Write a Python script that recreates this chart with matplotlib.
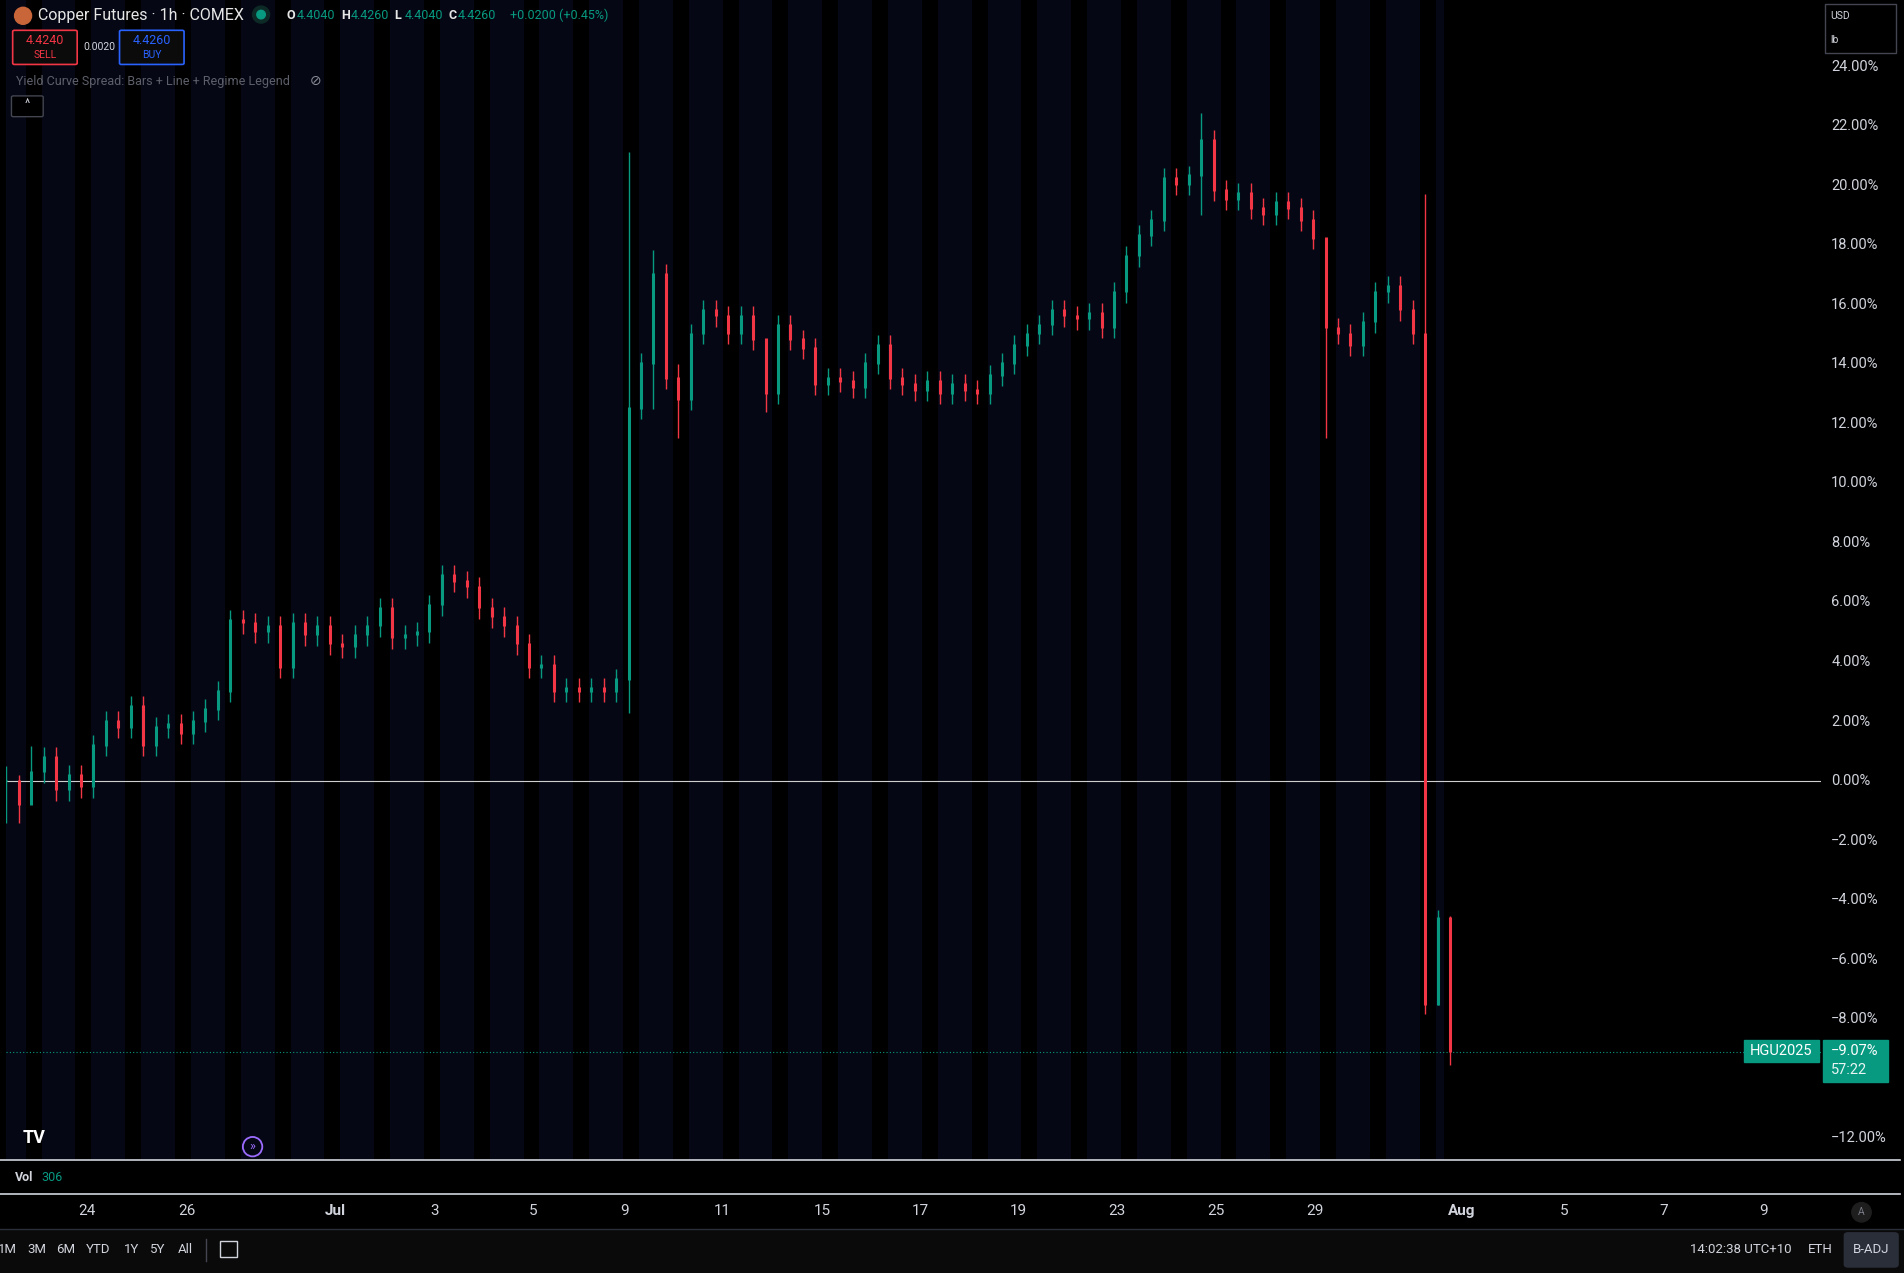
import numpy as np
import matplotlib
matplotlib.use("Agg")
import matplotlib.pyplot as plt
from matplotlib.patches import FancyBboxPatch, Rectangle, Ellipse

plt.rcParams["font.family"] = ["Roboto", "DejaVu Sans"]

# ── Data (x in trading-day units, Jun 24 = 0; y in % change) ─────────────────
x_start, x_step = -1.63, 0.25
closes = [
    0.0, -0.8, 0.3, 0.8, -0.3, 0.2, -0.2, 1.2, 2.0, 1.8,
    2.5, 1.2, 1.8, 1.9, 1.6, 2.0, 2.4, 3.0, 5.4, 5.3,
    5.0, 5.2, 3.8, 5.3, 4.9, 5.2, 4.6, 4.5, 4.9, 5.2,
    5.8, 4.8, 4.9, 5.0, 5.9, 6.9, 6.7, 6.5, 5.8, 5.5,
    5.2, 4.6, 3.8, 3.9, 3.0, 3.1, 3.0, 3.1, 3.0, 3.4,
    12.5, 14.0, 17.0, 13.5, 12.8, 15.0, 15.8, 15.6, 15.0, 15.6,
    14.8, 13.0, 15.3, 14.8, 14.5, 13.3, 13.5, 13.4, 13.2, 14.0,
    14.6, 13.5, 13.3, 13.1, 13.4, 13.0, 13.3, 13.1, 13.0, 13.6,
    14.0, 14.6, 15.0, 15.3, 15.8, 15.6, 15.5, 15.7, 15.2, 16.4,
    17.6, 18.3, 18.8, 20.2, 20.0, 20.3, 21.5, 19.8, 19.5, 19.7,
    19.2, 19.0, 19.4, 19.2, 18.8, 18.2, 15.2, 15.0, 14.6, 15.4,
    16.4, 16.6, 15.8, 15.0, -7.5, -4.6, -9.07,
]
spikes = {0: (0.5, -1.4), 1: (0.2, -1.4), 2: (1.2, -0.5), 50: (21.1, 2.3), 52: (17.8, 12.5),
          54: (14.0, 11.5), 61: (14.0, 12.4), 96: (22.4, 19.0), 106: (18.0, 11.5),
          114: (19.7, -7.8), 115: (-4.3, -7.5), 116: (-4.5, -9.5)}

yticks = [24, 22, 20, 18, 16, 14, 12, 10, 8, 6, 4, 2, 0, -2, -4, -6, -8, -12]
date_labels = ["24", "26", "Jul", "3", "5", "9", "11", "15", "17", "19",
               "23", "25", "29", "Aug", "5", "7", "9"]
date_pos = [0, 2, 4.98, 6.98, 8.95, 10.78, 12.76, 14.76, 16.73, 18.7,
            20.68, 22.66, 24.66, 27.6, 29.66, 31.66, 33.66]
last_val = -9.07

GREEN, RED = "#089981", "#f23645"
W, H = 1568, 1048

def fx(px): return px / W
def fy(py): return 1 - py / H

def dot(px, py, r, **kw):
    # round marker in figure coords (r in 1568-scale pixels)
    fig.patches.append(Ellipse((fx(px), fy(py)), 2 * r / W, 2 * r / H,
                               transform=fig.transFigure, **kw))

fig = plt.figure(figsize=(19.04, 12.73), dpi=100, facecolor="black")

ax = fig.add_axes([fx(5), fy(955), fx(1495), 955 / H])
ax.set_facecolor("black")
x0, x1 = (5 - 72) / 41, (1500 - 72) / 41
ax.set_xlim(x0, x1)
ax.set_ylim(-12.7, 26.2)

# daily session bands (navy) separated by black gaps
for k in range(-3, 28):
    ax.axvspan(k + 0.08, min(k + 0.76, 27.25), color="#050814", lw=0, zorder=0)

# candles
opens = [closes[0]] + closes[:-1]
for i, (o, c) in enumerate(zip(opens, closes)):
    x = x_start + i * x_step
    hi, lo = spikes.get(i, (max(o, c) + 0.35, min(o, c) - 0.35))
    col = GREEN if c >= o else RED
    ax.vlines(x, lo, hi, color=col, lw=1.0, zorder=3)
    ax.vlines(x, min(o, c), max(o, c) + 0.05, color=col, lw=2.2, zorder=3)

ax.axhline(0, color="#cfcfcf", lw=0.8, zorder=2)
ax.axhline(last_val, color=GREEN, lw=0.8, ls=(0, (1, 2)), zorder=2)

ax.set_xticks([]); ax.set_yticks([])
for s in ax.spines.values():
    s.set_visible(False)

# right price scale
for v in yticks:
    fig.text(fx(1508), fy(643 - v * 24.5), f"\u2212{abs(v):.2f}%" if v < 0 else f"{v:.2f}%",
             color="#d1d4dc", fontsize=10.5, va="center", ha="left")
ly = fy(643 - last_val * 24.5)
fig.patches.append(Rectangle((fx(1436), ly - 0.009), fx(62), 0.018, transform=fig.transFigure,
                             color=GREEN, zorder=5))
fig.text(fx(1467), ly, "HGU2025", color="white", fontsize=10.5, ha="center", va="center", zorder=6)
fig.patches.append(Rectangle((fx(1501), ly - 0.024), fx(54), 0.033, transform=fig.transFigure,
                             color=GREEN, zorder=5))
fig.text(fx(1508), ly, "\u22129.07%", color="white", fontsize=10.5, va="center", zorder=6)
fig.text(fx(1508), ly - 0.015, "57:22", color="#e8f5f2", fontsize=10.5, va="center", zorder=6)

# separators and bottom panes
for py in (955, 983):
    fig.add_artist(plt.Line2D([0, fx(1565)], [fy(py), fy(py)], color="#d1d4dc", lw=1.2))
fig.text(fx(12), fy(969), "Vol", color="#d1d4dc", fontsize=9, va="center", weight="bold")
fig.text(fx(34), fy(969), "306", color=GREEN, fontsize=9, va="center")
for lab, p in zip(date_labels, date_pos):
    px = 72 + p * 41
    fig.text(fx(px), fy(997), lab, color="#d1d4dc", fontsize=11, ha="center", va="center",
             weight="bold" if lab in ("Jul", "Aug") else "normal")
dot(1533, 998, 8, color="#1e1e1e")
fig.text(fx(1533), fy(998), "A", color="#787b86", fontsize=7.5, ha="center", va="center")

fig.patches.append(Rectangle((0, 0), 1, fy(1012), transform=fig.transFigure, color="#0a0a0a", zorder=0))
fig.add_artist(plt.Line2D([0, 1], [fy(1012), fy(1012)], color="#2a2e39", lw=1))
tb = ["1M", "3M", "6M", "YTD", "1Y", "5Y", "All"]
tbx = [6, 30, 54, 81, 108, 130, 153]
for lab, px in zip(tb, tbx):
    fig.text(fx(px), fy(1029), lab, color="#d1d4dc", fontsize=9.5, ha="center", va="center")
fig.add_artist(plt.Line2D([fx(170), fx(170)], [fy(1020), fy(1038)], color="#434651", lw=1))
fig.patches.append(Rectangle((fx(181), fy(1035)), fx(14), fy(1022) - fy(1035), transform=fig.transFigure,
                             facecolor="none", edgecolor="#d1d4dc", lw=1))
fig.text(fx(1392), fy(1029), "14:02:38 UTC+10", color="#d1d4dc", fontsize=9.5, va="center")
fig.text(fx(1489), fy(1029), "ETH", color="#d1d4dc", fontsize=9.5, va="center")
fig.patches.append(FancyBboxPatch((fx(1522), fy(1041)), fx(38), fy(1017) - fy(1041),
                                  boxstyle="round,pad=0.002", transform=fig.transFigure,
                                  color="#2a2e39"))
fig.text(fx(1541), fy(1029), "B-ADJ", color="#d1d4dc", fontsize=9.5, ha="center", va="center")

# header
dot(19, 13, 7, color="#c8663a")
fig.text(fx(31), fy(13), "Copper Futures \u00b7 1h \u00b7 COMEX", color="#e6e6e6", fontsize=11.5, va="center")
dot(215, 12, 7, color="#0d2a26")
dot(215, 12, 3.5, color=GREEN)
ohlc = [("O", "4.4040", 236), ("H", "4.4260", 281), ("L", "4.4040", 325), ("C", "4.4260", 369)]
for k, v, px in ohlc:
    fig.text(fx(px), fy(13), k, color="#e6e6e6", fontsize=9, va="center", weight="bold")
    fig.text(fx(px + 8), fy(13), v, color=GREEN, fontsize=9, va="center")
fig.text(fx(420), fy(13), "+0.0200 (+0.45%)", color=GREEN, fontsize=9, va="center")

for (px, w, num, lab, col) in [(12, 50, "4.4240", "SELL", RED), (100, 50, "4.4260", "BUY", "#2962ff")]:
    fig.patches.append(FancyBboxPatch((fx(px), fy(52)), fx(w), fy(26) - fy(52),
                                      boxstyle="round,pad=0.001", transform=fig.transFigure,
                                      facecolor="#0b0b0b", edgecolor=col, lw=1.2))
    fig.text(fx(px + w / 2), fy(33), num, color=col, fontsize=9, ha="center", va="center")
    fig.text(fx(px + w / 2), fy(45), lab, color=col, fontsize=7.5, ha="center", va="center")
fig.text(fx(82), fy(39), "0.0020", color="#d1d4dc", fontsize=7.5, ha="center", va="center")
fig.text(fx(13), fy(67), "Yield Curve Spread: Bars + Line + Regime Legend", color="#5d606b",
         fontsize=9, va="center")
fig.text(fx(255), fy(67), "\u2298", color="#8a8d96", fontsize=10, va="center")
fig.patches.append(FancyBboxPatch((fx(11), fy(95)), fx(23), fy(80) - fy(95),
                                  boxstyle="round,pad=0.001", transform=fig.transFigure,
                                  facecolor="black", edgecolor="#434651", lw=1))
fig.text(fx(22.5), fy(86), "^", color="#d1d4dc", fontsize=9, ha="center", va="center")

# top-right currency box
fig.patches.append(Rectangle((fx(1503), fy(44)), fx(58), fy(3) - fy(44), transform=fig.transFigure,
                             facecolor="black", edgecolor="#434651", lw=1))
fig.text(fx(1507), fy(13), "USD", color="#d1d4dc", fontsize=7.5, va="center")
fig.text(fx(1507), fy(33), "lb", color="#d1d4dc", fontsize=7.5, va="center")

fig.text(fx(28), fy(937), "TV", color="white", fontsize=13, weight="bold", ha="center", va="center")
dot(208, 944, 8, facecolor="none", edgecolor="#9c6bff", lw=1.3)
fig.text(fx(208), fy(944), "\u00bb", color="#9c6bff", fontsize=9, ha="center", va="center")

fig.savefig("out.png", dpi=100, facecolor="black")
